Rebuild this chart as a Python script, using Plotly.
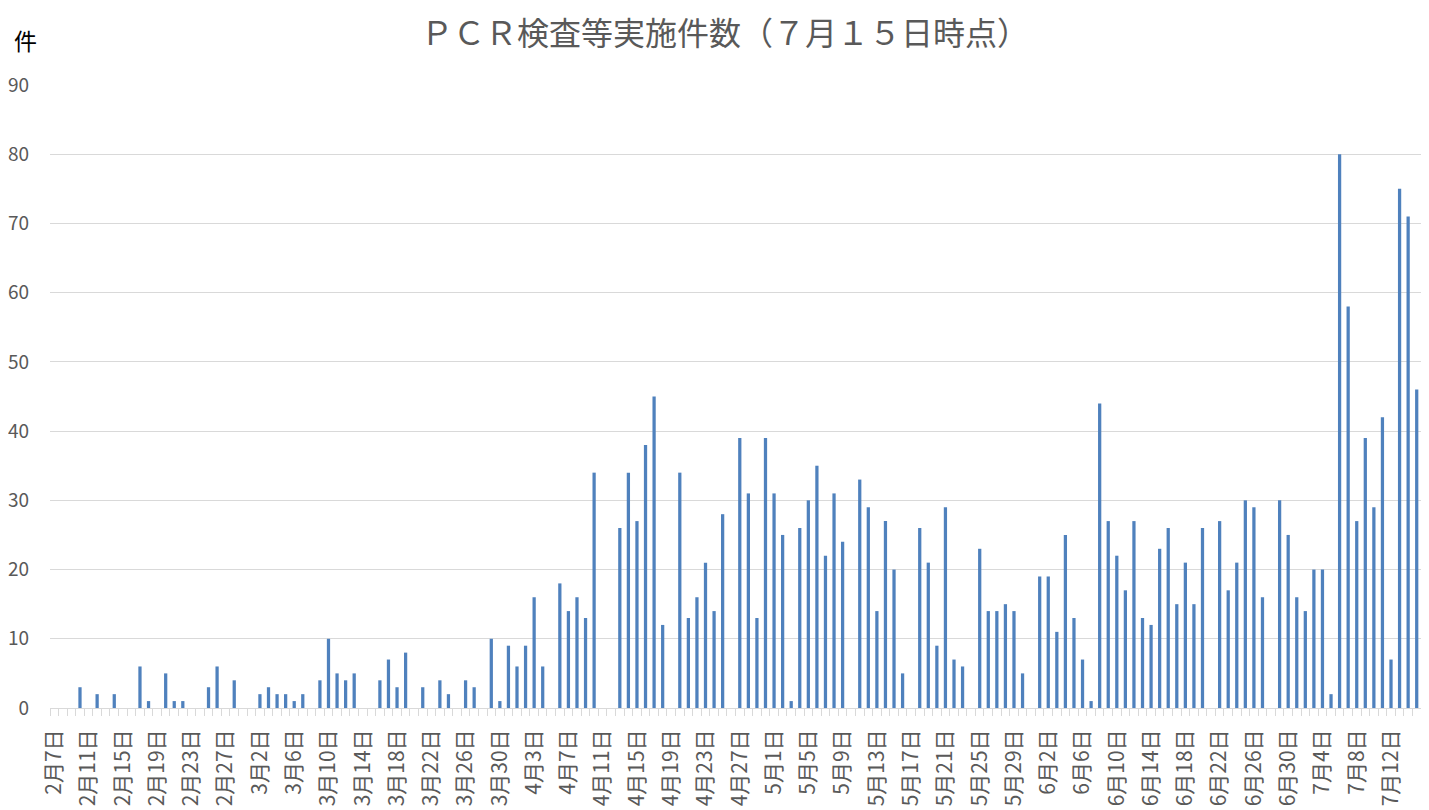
import pandas as pd
import plotly.graph_objects as go

start_date = "2020-02-07"
counts = [
    0, 0, 0, 3, 0, 2, 0, 2, 0, 0,
    6, 1, 0, 5, 1, 1, 0, 0, 3, 6,
    0, 4, 0, 0, 2, 3, 2, 2, 1, 2,
    0, 4, 10, 5, 4, 5, 0, 0, 4, 7,
    3, 8, 0, 3, 0, 4, 2, 0, 4, 3,
    0, 10, 1, 9, 6, 9, 16, 6, 0, 18,
    14, 16, 13, 34, 0, 0, 26, 34, 27, 38,
    45, 12, 0, 34, 13, 16, 21, 14, 28, 0,
    39, 31, 13, 39, 31, 25, 1, 26, 30, 35,
    22, 31, 24, 0, 33, 29, 14, 27, 20, 5,
    0, 26, 21, 9, 29, 7, 6, 0, 23, 14,
    14, 15, 14, 5, 0, 19, 19, 11, 25, 13,
    7, 1, 44, 27, 22, 17, 27, 13, 12, 23,
    26, 15, 21, 15, 26, 0, 27, 17, 21, 30,
    29, 16, 0, 30, 25, 16, 14, 20, 20, 2,
    80, 58, 27, 39, 29, 42, 7, 75, 71, 46,
]
dates = pd.date_range(start_date, periods=len(counts), freq="D")
tick_dates = dates[::4]
tick_labels = [f"{d.month}月{d.day}日" for d in tick_dates]
y_ticks = list(range(0, 91, 10))

title_text = "ＰＣＲ検査等実施件数（７月１５日時点）"
unit_text = "件"

DAY_MS = 86400000
grey = "#595959"
grid = "#d9d9d9"
font_family = "Noto Sans CJK JP"

W, H = 1413, 802
L, T, B = 42, 77, 102
plot_w = W - L
plot_h = H - T - B

fig = go.Figure(
    go.Bar(
        x=dates,
        y=counts,
        width=0.38 * DAY_MS,
        marker=dict(color="#4F81BD", line=dict(width=0)),
        hoverinfo="x+y",
    )
)

x_start = dates[0] - pd.Timedelta(hours=12)
x_end = dates[-1] + pd.Timedelta(hours=12)

fig.update_layout(
    width=W,
    height=H,
    margin=dict(l=L, r=0, t=T, b=B),
    paper_bgcolor="white",
    plot_bgcolor="white",
    showlegend=False,
    font=dict(family=font_family, color=grey),
    title=dict(
        text=title_text,
        x=717 / W,
        xref="container",
        xanchor="center",
        y=1 - 26 / H,
        yanchor="middle",
        font=dict(size=32, color=grey, family=font_family),
    ),
    xaxis=dict(
        type="date",
        range=[x_start, x_end],
        tickmode="array",
        tickvals=tick_dates,
        ticktext=tick_labels,
        tickangle=-90,
        ticks="",
        ticklabelstandoff=12,
        tickfont=dict(size=21, color=grey, family=font_family),
        showgrid=False,
        showline=True,
        linecolor=grid,
        linewidth=1,
        automargin=False,
        minor=dict(
            ticks="outside",
            ticklen=7,
            tickcolor=grid,
            tickwidth=1,
            tick0=x_start,
            dtick=DAY_MS,
            showgrid=False,
        ),
    ),
    yaxis=dict(
        range=[0, 90],
        tickmode="array",
        tickvals=y_ticks,
        showgrid=True,
        gridcolor=grid,
        gridwidth=1,
        zeroline=False,
        showline=False,
        ticks="",
        ticklabelstandoff=20,
        tickfont=dict(size=19, color=grey, family=font_family),
        automargin=False,
    ),
    annotations=[
        dict(
            text=unit_text,
            xref="paper",
            yref="paper",
            x=(17 - L) / plot_w,
            y=(plot_h + T - 32) / plot_h,
            xanchor="center",
            yanchor="middle",
            showarrow=False,
            font=dict(size=23, color="black", family=font_family),
        )
    ],
    bargap=0.6,
)

fig.write_html("out.html")
